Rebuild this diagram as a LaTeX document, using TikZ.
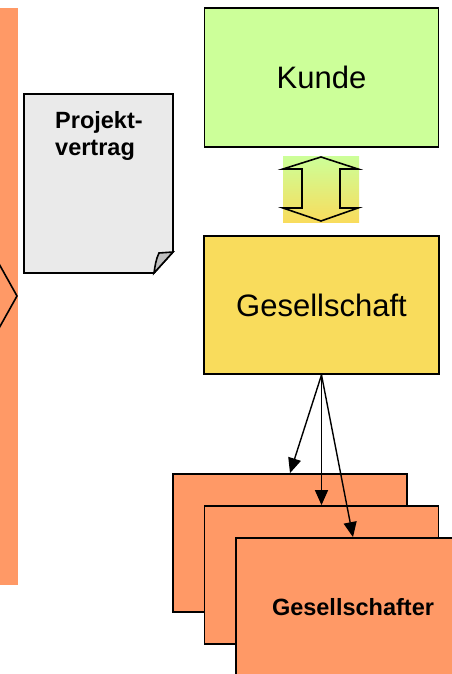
\documentclass[tikz,border=0pt]{standalone}
\usepackage{fontspec}
\setmainfont{Liberation Sans}
\usetikzlibrary{arrows.meta,shadings}

\definecolor{bandorange}{HTML}{FF9966}
\definecolor{kundegreen}{HTML}{CCFF99}
\definecolor{gesyellow}{HTML}{F9DC5C}
\definecolor{docgrey}{HTML}{EAEAEA}
\definecolor{foldgrey}{HTML}{C0C0C0}

\begin{document}
\begin{tikzpicture}[x=1pt,y=-1pt,
  box/.style={draw=black, line width=1.8pt, inner sep=0pt,
              minimum width=234pt, minimum height=138pt},
  bigtext/.style={font=\fontsize{31}{37}\selectfont},
  boldtext/.style={font=\bfseries\fontsize{23.5}{27}\selectfont},
  link/.style={line width=1.4pt, -{Triangle[length=15pt,width=13pt]}},
  outline/.style={line width=1.6pt, line join=miter}
]
\useasboundingbox (0,0) rectangle (452,674);
\clip (0,0) rectangle (452,674);

% orange band on the left with its chevron
\fill[bandorange] (0,8) rectangle (18,585);
\draw[outline] (-2,262) -- (17,296) -- (-2,330);

% contract sheet with folded corner
\draw[outline, fill=docgrey] (24,94) -- (173,94) -- (173,252) -- (154,273)
  -- (24,273) -- cycle;
\draw[outline, fill=foldgrey] (173,252) -- (159,253)
  .. controls (156,259) and (155,266) .. (154,273) -- cycle;
\node[boldtext, align=left, anchor=north west, inner sep=0pt] (doctext)
  at (55,111.7) {Projekt-\\vertrag};

% customer and company
\node[box, fill=kundegreen, minimum height=139pt, bigtext] (kunde)
  at (321.5,77.5) {Kunde};
\node[box, fill=gesyellow, minimum width=235pt, bigtext] (ges)
  at (321.5,305) {Gesellschaft};

% two-headed exchange arrow between customer and company
\node[inner sep=0pt, minimum width=76pt, minimum height=66pt,
      top color=kundegreen, bottom color=gesyellow] (dbl) at (321,189) {};
\draw[outline] (321,157) -- (358,169) -- (340,169) -- (340,208) -- (358,208)
  -- (321,221) -- (283,208) -- (302,208) -- (302,169) -- (283,169) -- cycle;

% stacked partner cards
\node[box, fill=bandorange] (g1) at (290,543) {};
\node[box, fill=bandorange] (g2) at (321.5,575) {};
\node[box, fill=bandorange, boldtext] (g3) at (353,607) {Gesellschafter};

% company to partners
\draw[link] (ges.south) -- (g1.north);
\draw[link] (ges.south) -- (g2.north);
\draw[link] (ges.south) -- (g3.north);
\end{tikzpicture}
\end{document}
